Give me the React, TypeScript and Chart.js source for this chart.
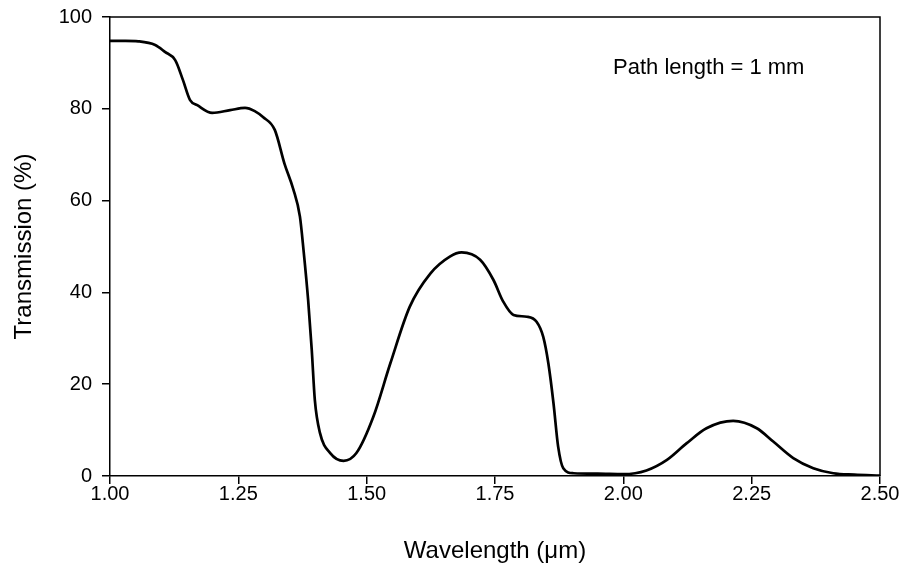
import React, { useEffect, useRef } from "react";
import { Chart, registerables } from "chart.js";

Chart.register(...registerables);

const wavelengths = [
  1.0, 1.03, 1.055, 1.088, 1.107, 1.127, 1.142, 1.156, 1.17, 1.199, 1.234, 1.263, 1.282,
  1.298, 1.321, 1.34, 1.357, 1.37, 1.377, 1.386, 1.393, 1.399, 1.409, 1.429, 1.455, 1.48,
  1.513, 1.546, 1.584, 1.624, 1.662, 1.685, 1.721, 1.747, 1.766, 1.786, 1.812, 1.831, 1.844,
  1.854, 1.864, 1.873, 1.883, 1.903, 1.95, 2.0, 2.045, 2.085, 2.123, 2.162, 2.214, 2.26,
  2.292, 2.331, 2.37, 2.409, 2.45, 2.5,
];
const transmission = [
  94.8, 94.8, 94.7, 93.9, 92.4, 90.6, 86.3, 81.9, 80.8, 79.1, 79.7, 80.2, 79.5,
  78.2, 75.4, 68.0, 62.5, 56.5, 49.2, 38.3, 27.5, 16.6, 9.4, 5.0, 3.3, 5.0,
  12.9, 24.5, 36.9, 44.1, 47.8, 48.7, 47.1, 42.7, 38.0, 35.1, 34.7, 33.6, 30.3,
  24.5, 15.8, 6.4, 1.7, 0.6, 0.5, 0.4, 1.2, 3.5, 7.1, 10.4, 12.0, 10.4,
  7.5, 3.9, 1.7, 0.6, 0.3, 0.1,
];
const xTicks = [1.0, 1.25, 1.5, 1.75, 2.0, 2.25, 2.5];
const yTicks = [0, 20, 40, 60, 80, 100];
const xTitle = "Wavelength (\u03bcm)";
const yTitle = "Transmission (%)";
const note = "Path length = 1 mm";

const FONT = "'Liberation Sans', Arial, sans-serif";

export default function App() {
  const ref = useRef<HTMLCanvasElement | null>(null);

  useEffect(() => {
    document.body.style.margin = "0";
    const canvas = ref.current;
    if (!canvas) return;

    const framePlugin = {
      id: "frame",
      afterDraw(chart: any) {
        const { ctx, chartArea } = chart;
        ctx.save();
        ctx.strokeStyle = "#000";
        ctx.lineWidth = 1.5;
        ctx.beginPath();
        ctx.moveTo(chartArea.left, chartArea.top);
        ctx.lineTo(chartArea.right, chartArea.top);
        ctx.lineTo(chartArea.right, chartArea.bottom);
        ctx.stroke();
        ctx.fillStyle = "#000";
        ctx.font = `22px ${FONT}`;
        ctx.textAlign = "left";
        ctx.textBaseline = "middle";
        const xs = chart.scales.x;
        const ys = chart.scales.y;
        ctx.fillText(note, xs.getPixelForValue(1.98), ys.getPixelForValue(89));
        ctx.restore();
      },
    };

    const chart = new Chart(canvas, {
      type: "line",
      data: {
        datasets: [
          {
            data: wavelengths.map((w, i) => ({ x: w, y: transmission[i] })),
            borderColor: "#000",
            borderWidth: 2.7,
            pointRadius: 0,
            cubicInterpolationMode: "monotone",
            fill: false,
          },
        ],
      },
      options: {
        animation: false,
        responsive: true,
        maintainAspectRatio: false,
        layout: { padding: { left: 0, top: 17, right: 23, bottom: 0 } },
        plugins: { legend: { display: false }, tooltip: { enabled: false } },
        scales: {
          x: {
            type: "linear",
            min: 1.0,
            max: 2.5,
            afterBuildTicks: (s: any) => {
              s.ticks = xTicks.map((v) => ({ value: v }));
            },
            afterFit: (s: any) => {
              s.height = 95;
              s.paddingLeft = 0;
              s.paddingRight = 0;
            },
            ticks: {
              color: "#000",
              font: { family: FONT, size: 20, lineHeight: 1 },
              padding: 0,
              maxRotation: 0,
              callback: (v: any) => Number(v).toFixed(2),
            },
            grid: {
              drawOnChartArea: false,
              drawTicks: true,
              tickLength: 8,
              color: "#000",
              lineWidth: 1.5,
            },
            border: { color: "#000", width: 1.5 },
            title: {
              display: true,
              text: xTitle,
              color: "#000",
              font: { family: FONT, size: 24 },
              padding: { top: 0, bottom: 5 },
            },
          },
          y: {
            min: 0,
            max: 100,
            afterBuildTicks: (s: any) => {
              s.ticks = yTicks.map((v) => ({ value: v }));
            },
            afterFit: (s: any) => {
              s.width = 110;
              s.paddingTop = 0;
              s.paddingBottom = 0;
            },
            ticks: {
              color: "#000",
              font: { family: FONT, size: 20 },
              padding: 10,
            },
            grid: {
              drawOnChartArea: false,
              drawTicks: true,
              tickLength: 8,
              color: "#000",
              lineWidth: 1.5,
            },
            border: { color: "#000", width: 1.5 },
            title: {
              display: true,
              text: yTitle,
              color: "#000",
              font: { family: FONT, size: 24 },
              padding: { top: 10, bottom: 0 },
            },
          },
        },
      },
      plugins: [framePlugin],
    });

    return () => chart.destroy();
  }, []);

  return (
    <div style={{ position: "relative", width: "903px", height: "571px" }}>
      <canvas ref={ref} />
    </div>
  );
}
